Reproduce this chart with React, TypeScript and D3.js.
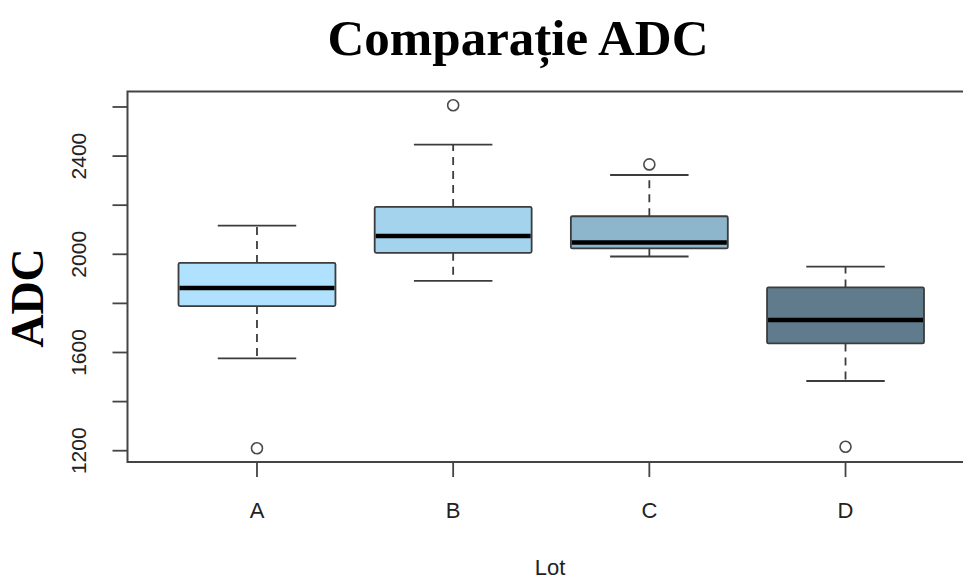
import React from "react";
import * as d3 from "d3";

const categories = ["A", "B", "C", "D"];
const whiskerLow = [1576, 1892, 1991, 1484];
const q1 = [1789, 2006, 2024, 1637];
const medians = [1863, 2074, 2048, 1732];
const q3 = [1965, 2193, 2155, 1865];
const whiskerHigh = [2117, 2447, 2323, 1950];
const outliers = [[1210], [2607], [2366], [1216]];
const fills = ["#B0E2FF", "#A4D3EE", "#8DB6CD", "#607B8B"];
const yTicks = [1200, 1400, 1600, 1800, 2000, 2200, 2400, 2600];
const yTickLabels = [1200, 1600, 2000, 2400];
const title = "Comparație ADC";
const yTitle = "ADC";
const xTitle = "Lot";

const W = 963;
const H = 579;

export default function App() {
  const x = d3.scaleLinear().domain([0.34, 4.66]).range([127.5, 975]);
  const y = d3.scaleLinear().domain([1154, 2663]).range([462, 91.5]);
  const unit = x(2) - x(1);
  const boxW = unit * 0.8;
  const stapleW = boxW * 0.5;
  const lineCol = "#3c3c3c";
  const sans = "'Liberation Sans', Arial, sans-serif";
  const serif = "'Liberation Serif', 'Times New Roman', serif";

  return (
    <svg width={W} height={H} style={{ display: "block", position: "absolute", left: 0, top: 0 }}>
      <rect x={0} y={0} width={W} height={H} fill="#fff" />
      <text x={518} y={55} textAnchor="middle" fontFamily={serif} fontWeight="bold" fontSize={51} fill="#000">
        {title}
      </text>
      <text
        transform={`translate(43, 298) rotate(-90)`}
        textAnchor="middle"
        fontFamily={serif}
        fontWeight="bold"
        fontSize={46}
        fill="#000"
      >
        {yTitle}
      </text>
      <text x={550} y={575} textAnchor="middle" fontFamily={sans} fontSize={22} fill="#222">
        {xTitle}
      </text>

      {/* boxes */}
      {categories.map((c, i) => {
        const cx = x(i + 1);
        return (
          <g key={c}>
            <line x1={cx} x2={cx} y1={y(q3[i])} y2={y(whiskerHigh[i])} stroke={lineCol} strokeWidth={1.8} strokeDasharray="8,6" />
            <line x1={cx} x2={cx} y1={y(q1[i])} y2={y(whiskerLow[i])} stroke={lineCol} strokeWidth={1.8} strokeDasharray="8,6" />
            <line x1={cx - stapleW / 2} x2={cx + stapleW / 2} y1={y(whiskerHigh[i])} y2={y(whiskerHigh[i])} stroke={lineCol} strokeWidth={1.8} />
            <line x1={cx - stapleW / 2} x2={cx + stapleW / 2} y1={y(whiskerLow[i])} y2={y(whiskerLow[i])} stroke={lineCol} strokeWidth={1.8} />
            <rect
              x={cx - boxW / 2}
              y={y(q3[i])}
              width={boxW}
              height={y(q1[i]) - y(q3[i])}
              fill={fills[i]}
              stroke={lineCol}
              strokeWidth={1.8}
              rx={1.5}
            />
            <line x1={cx - boxW / 2 + 1} x2={cx + boxW / 2 - 1} y1={y(medians[i])} y2={y(medians[i])} stroke="#000" strokeWidth={4.5} />
            {outliers[i].map((o, j) => (
              <circle key={j} cx={cx} cy={y(o)} r={5.5} fill="none" stroke="#4a4a4a" strokeWidth={1.6} />
            ))}
          </g>
        );
      })}

      {/* frame */}
      <rect x={x(0.34)} y={y(2663)} width={x(4.66) - x(0.34)} height={y(1154) - y(2663)} fill="none" stroke="#444" strokeWidth={2} />

      {/* y axis */}
      {yTicks.map((t) => (
        <line key={t} x1={x(0.34) - 15} x2={x(0.34)} y1={y(t)} y2={y(t)} stroke="#444" strokeWidth={1.8} />
      ))}
      {yTickLabels.map((t) => (
        <text
          key={t}
          transform={`translate(86, ${y(t)}) rotate(-90)`}
          textAnchor="middle"
          fontFamily={sans}
          fontSize={21}
          fill="#222"
        >
          {t}
        </text>
      ))}

      {/* x axis */}
      {categories.map((c, i) => (
        <g key={c}>
          <line x1={x(i + 1)} x2={x(i + 1)} y1={y(1154)} y2={y(1154) + 15} stroke="#444" strokeWidth={1.8} />
          <text x={x(i + 1)} y={518} textAnchor="middle" fontFamily={sans} fontSize={22} fill="#222">
            {c}
          </text>
        </g>
      ))}
    </svg>
  );
}
